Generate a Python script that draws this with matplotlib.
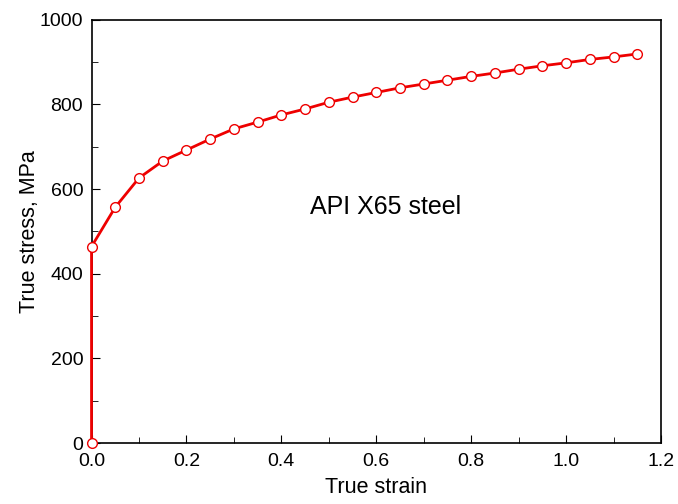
import numpy as np
import matplotlib
matplotlib.use('Agg')
import matplotlib.pyplot as plt
from matplotlib.ticker import MultipleLocator

plt.rcParams['font.family'] = ['Liberation Sans', 'DejaVu Sans']

strain = [0.0, 0.0, 0.05, 0.10, 0.15, 0.20, 0.25, 0.30, 0.35, 0.40, 0.45, 0.50,
          0.55, 0.60, 0.65, 0.70, 0.75, 0.80, 0.85, 0.90, 0.95, 1.00, 1.05,
          1.10, 1.15]
stress = [0, 464, 557, 626, 666, 692, 718, 742, 758, 775, 789, 805,
          817, 828, 839, 848, 857, 866, 874, 883, 891, 898, 906,
          912, 919]

fig = plt.figure(figsize=(6.78, 5.04), dpi=100)
ax = fig.add_axes([0.135, 0.121, 0.840, 0.840])

ax.plot(strain, stress, color='#ee0000', lw=2, marker='o', ms=7,
        mfc='white', mec='#ee0000', mew=1, clip_on=False, zorder=3)

ax.set_xlim(0, 1.2)
ax.set_ylim(0, 1000)
ax.xaxis.set_major_locator(MultipleLocator(0.2))
ax.xaxis.set_minor_locator(MultipleLocator(0.1))
ax.yaxis.set_major_locator(MultipleLocator(200))
ax.yaxis.set_minor_locator(MultipleLocator(100))
ax.xaxis.set_major_formatter(plt.FormatStrFormatter('%.1f'))
ax.tick_params(which='both', direction='in', labelsize=14, top=False, right=False)
ax.tick_params(which='major', length=6)
ax.tick_params(which='minor', length=4)
ax.tick_params(axis='x', pad=7)
ax.tick_params(axis='y', pad=6)
for s in ax.spines.values():
    s.set_linewidth(1.2)

ax.set_xlabel('True strain', fontsize=15.5, labelpad=5)
ax.set_ylabel('True stress, MPa', fontsize=15.5, labelpad=0)
ax.text(0.62, 557, 'API X65 steel', fontsize=18, ha='center', va='center')

fig.savefig('out.png', dpi=100)
